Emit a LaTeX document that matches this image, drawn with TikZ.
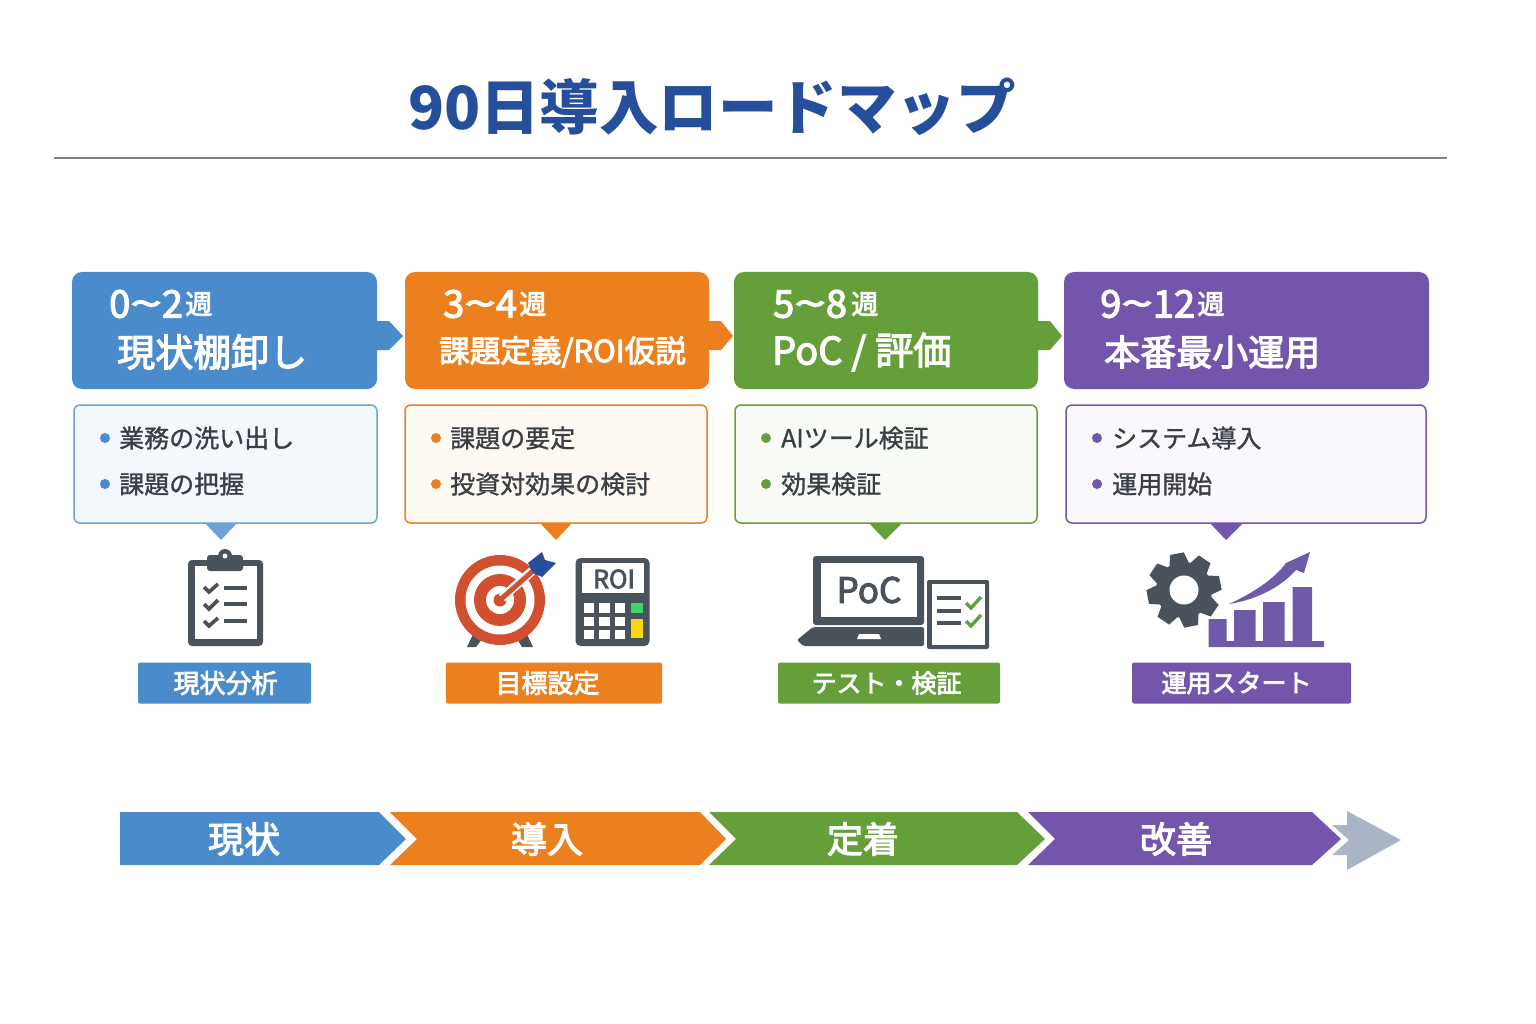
\documentclass[tikz,border=0pt]{standalone}
\usepackage{fontspec}
\setmainfont{Noto Sans CJK JP}
\newfontfamily\medfont[FakeBold=3]{Noto Sans CJK JP}
\newfontfamily\itemfont[FakeBold=1.2]{Noto Sans CJK JP}
\usetikzlibrary{positioning}

\definecolor{cblue}{HTML}{4A8BCB}
\definecolor{corange}{HTML}{EC801E}
\definecolor{cgreen}{HTML}{659F3A}
\definecolor{cpurple}{HTML}{7355AB}
\definecolor{lblue}{HTML}{F3F8FD}
\definecolor{lorange}{HTML}{FFF9F3}
\definecolor{lgreen}{HTML}{F9FBF6}
\definecolor{lpurple}{HTML}{FBF9FE}
\definecolor{cicon}{HTML}{4A525C}
\definecolor{cchart}{HTML}{6E5AA8}
\definecolor{ctext}{HTML}{3A3F45}
\definecolor{ctitle}{HTML}{254E9B}
\definecolor{cred}{HTML}{D24F2F}
\definecolor{cgray}{HTML}{A9B4C4}

\newcommand{\fpx}[1]{\fontsize{#1}{#1}\selectfont}
\newcommand{\wave}{\scalebox{1.5}[1]{\textasciitilde}}

\tikzset{
  header/.style={rounded corners=10, minimum height=117, inner sep=0},
  bodybox/.style={rounded corners=6, line width=1.5, minimum height=118, inner sep=0},
  tag/.style={rounded corners=2, minimum height=41, inner sep=0},
  tagtext/.style={inner sep=0, text=white, font=\fpx{26}\medfont},
  weeks/.style={anchor=west, inner sep=0, text=white, font=\fpx{38}\medfont},
  wk/.style={anchor=west, inner sep=0, text=white, font=\fpx{27}\medfont},
  phase/.style={anchor=west, inner sep=0, text=white, font=\fpx{38}\medfont},
  item/.style={anchor=west, inner sep=0, text=ctext, font=\fpx{25}\itemfont},
  bandtext/.style={inner sep=0, text=white, font=\fpx{36}\medfont},
  dot/.style={circle, minimum size=10, inner sep=0},
  checkline/.style={line width=3.6, cicon},
  checkgreen/.style={line width=3.4, cgreen}
}

\begin{document}
\begin{tikzpicture}[x=1pt,y=-1pt]
\useasboundingbox (0,0) rectangle (1536,1024);

% title
\node[inner sep=0, text=ctitle, font=\fpx{59.5}\bfseries] (title) at (712,107) {90日導入ロードマップ};
\coordinate (rl) at (54,158);
\coordinate (rr) at (1447,158);
\draw[line width=1.5, color=gray] (rl) -- (rr);

% pointers
\path[shape=coordinate]
(376,321) coordinate(a11) (389,321) coordinate(a12) (403,336) coordinate(a13)
(389,350) coordinate(a14) (376,350) coordinate(a15);
\fill[cblue] (a11) -- (a12) -- (a13) -- (a14) -- (a15) -- cycle;
\path[shape=coordinate]
(708,321) coordinate(a21) (721,321) coordinate(a22) (733,336) coordinate(a23)
(721,350) coordinate(a24) (708,350) coordinate(a25);
\fill[corange] (a21) -- (a22) -- (a23) -- (a24) -- (a25) -- cycle;
\path[shape=coordinate]
(1037,321) coordinate(a31) (1050,321) coordinate(a32) (1062,336) coordinate(a33)
(1050,350) coordinate(a34) (1037,350) coordinate(a35);
\fill[cgreen] (a31) -- (a32) -- (a33) -- (a34) -- (a35) -- cycle;

% headers
\node[header, fill=cblue, minimum width=305] (h1) at (224.5,330.5) {};
\node[header, fill=corange, minimum width=304] (h2) at (557,330.5) {};
\node[header, fill=cgreen, minimum width=304] (h3) at (886,330.5) {};
\node[header, fill=cpurple, minimum width=365] (h4) at (1246.5,330.5) {};

\node[weeks] (w1) at (109,304) {0\wave 2};
\node[wk, right=2 of w1] (k1) {週};
\node[phase] (p1) at (117,352) {現状棚卸し};
\node[weeks] (w2) at (443,304) {3\wave 4};
\node[wk, right=2 of w2] (k2) {週};
\node[phase, font=\fpx{30.6}\medfont] (p2) at (439,352) {課題定義/ROI仮説};
\node[weeks] (w3) at (773,304) {5\wave 8};
\node[wk, right=4 of w3] (k3) {週};
\node[phase] (p3) at (772,352) {PoC\hspace{9pt}/\hspace{9pt}評価};
\node[weeks] (w4) at (1100,304) {9\wave 12};
\node[wk, right=2 of w4] (k4) {週};
\node[phase, font=\fpx{36}\medfont] (p4) at (1104,352) {本番最小運用};

% callouts
\path[shape=coordinate]
(204,522) coordinate(c11) (238,522) coordinate(c12) (221,540) coordinate(c13)
(539,522) coordinate(c21) (573,522) coordinate(c22) (556,540) coordinate(c23)
(868,522) coordinate(c31) (903,522) coordinate(c32) (885,540) coordinate(c33)
(1209,522) coordinate(c41) (1244,522) coordinate(c42) (1226,540) coordinate(c43);
\fill[cblue!80] (c11) -- (c12) -- (c13) -- cycle;
\fill[corange] (c21) -- (c22) -- (c23) -- cycle;
\fill[cgreen] (c31) -- (c32) -- (c33) -- cycle;
\fill[cpurple] (c41) -- (c42) -- (c43) -- cycle;

% body boxes
\node[bodybox, draw=cblue!80, fill=lblue, minimum width=303] (b1) at (225.5,464) {};
\node[bodybox, draw=corange, fill=lorange, minimum width=302] (b2) at (556,464) {};
\node[bodybox, draw=cgreen, fill=lgreen, minimum width=302] (b3) at (886,464) {};
\node[bodybox, draw=cpurple, fill=lpurple, minimum width=360] (b4) at (1246,464) {};

\node[dot, fill=cblue] (d11) at (105,438) {};
\node[dot, fill=cblue] (d12) at (105,484) {};
\node[item] (t11) at (119,438) {業務の洗い出し};
\node[item] (t12) at (119,484) {課題の把握};
\node[dot, fill=corange] (d21) at (436,438) {};
\node[dot, fill=corange] (d22) at (436,484) {};
\node[item] (t21) at (450,438) {課題の要定};
\node[item] (t22) at (450,484) {投資対効果の検討};
\node[dot, fill=cgreen] (d31) at (766,438) {};
\node[dot, fill=cgreen] (d32) at (766,484) {};
\node[item] (t31) at (781,438) {AIツール検証};
\node[item] (t32) at (781,484) {効果検証};
\node[dot, fill=cpurple] (d41) at (1097,438) {};
\node[dot, fill=cpurple] (d42) at (1097,484) {};
\node[item] (t41) at (1112,438) {システム導入};
\node[item] (t42) at (1112,484) {運用開始};

% clipboard
\fill[cicon, rounded corners=4] (188,560) rectangle (263,646);
\fill[white] (195,566) rectangle (257,639);
\fill[cicon, rounded corners=3] (207,555) rectangle (243,571);
\fill[cicon] (225,556) circle (7);
\fill[white] (225,556) circle (2.5);
\draw[checkline] (204,587) -- (209,592) -- (218,584);
\draw[checkline] (224,588) -- (247,588);
\draw[checkline] (204,604) -- (209,609) -- (218,600);
\draw[checkline] (224,604) -- (247,604);
\draw[checkline] (204,621) -- (209,626) -- (218,618);
\draw[checkline] (224,621) -- (247,621);

% target
\fill[cicon] (476,628) -- (486,634) -- (476,647) -- (467,647) -- cycle;
\fill[cicon] (524,628) -- (514,634) -- (522,647) -- (533,647) -- cycle;
\fill[cred] (500,600) circle (45);
\fill[white] (500,600) circle (34.5);
\fill[cred] (500,600) circle (26);
\fill[white] (500,600) circle (14);
\fill[cred] (500,600) circle (6.5);
\draw[white, line width=9] (502,598) -- (532,571);
\draw[cred, line width=5] (500,600) -- (534,570);
\fill[ctitle] (528,563) -- (542,552) -- (545,560) -- (556,563) -- (542,577) -- (533,573) -- cycle;

% calculator
\fill[cicon, rounded corners=5] (575.5,558) rectangle (649.5,646);
\fill[white] (582,563) rectangle (644,593);
\node[inner sep=0, text=cicon, font=\fpx{25}\medfont] (roi) at (614,579) {ROI};
\fill[white] (583.5,603) rectangle (594,612.7);
\fill[white] (599,603) rectangle (609.5,612.7);
\fill[white] (614.5,603) rectangle (625,612.7);
\fill[white] (583.5,616.7) rectangle (594,626);
\fill[white] (599,616.7) rectangle (609.5,626);
\fill[white] (614.5,616.7) rectangle (625,626);
\fill[white] (583.5,630) rectangle (594,639);
\fill[white] (599,630) rectangle (609.5,639);
\fill[white] (614.5,630) rectangle (625,639);
\fill[fill=green!55!teal!75] (631,603) rectangle (642.5,613);
\fill[fill=yellow!75!orange] (631,619) rectangle (642.5,638);

% laptop
\fill[cicon, rounded corners=3] (813,556) rectangle (924,625);
\fill[white] (821,563) rectangle (917,617);
\node[inner sep=0, text=cicon, font=\fpx{35}\medfont] (poc) at (869,590) {PoC};
\fill[cicon, rounded corners=2] (813,627) -- (924,627) -- (924,646) -- (803,646) -- (797,640) -- cycle;
\fill[white] (859,634) -- (879,634) -- (881,639) -- (857,639) -- cycle;

% sheet
\fill[cicon, rounded corners=2] (927,580) rectangle (989,649);
\fill[white] (932,584) rectangle (985,645);
\draw[checkline] (937,598) -- (961,598);
\draw[checkline] (937,611) -- (961,611);
\draw[checkline] (937,623) -- (961,623);
\draw[checkgreen] (966,603) -- (971,608) -- (981,597);
\draw[checkgreen] (966,621) -- (971,626) -- (981,615);

% gear
\coordinate (gc) at (1184,590);
\fill[cicon] (gc) circle (28);
\foreach \a in {11,56,101,146,191,236,281,326} {
  \fill[cicon, shift={(gc)}, rotate=\a] (-7,-37) -- (7,-37) -- (10,-25) -- (-10,-25) -- cycle;
}
\fill[white] (gc) circle (14.5);

% chart
\fill[cchart] (1208.5,641) -- (1208.5,619) -- (1226.5,619) -- (1226.5,641) -- (1234,641) -- (1234,610) -- (1255.5,610) -- (1255.5,641)
 -- (1263,641) -- (1263,602) -- (1284.5,602) -- (1284.5,641) -- (1292.5,641) -- (1292.5,587) -- (1312,587) -- (1312,641) -- (1324,641) -- (1324,647) -- (1208.5,647) -- cycle;
\fill[cchart] (1229,604) .. controls (1255,592) and (1275,578) .. (1286,563) -- (1310,552) -- (1304,573) -- (1296,570) .. controls (1280,588) and (1255,600) .. (1229,604) -- cycle;

% tags
\node[tag, fill=cblue, minimum width=173] (s1) at (224.5,683) {};
\node[tag, fill=corange, minimum width=216] (s2) at (554,683) {};
\node[tag, fill=cgreen, minimum width=222] (s3) at (889,683) {};
\node[tag, fill=cpurple, minimum width=219] (s4) at (1241.5,683) {};
\node[tagtext] (l1) at (225.5,683) {現状分析};
\node[tagtext] (l2) at (547.5,683) {目標設定};
\node[tagtext, font=\fpx{25}\medfont] (l3) at (886.5,683) {テスト・検証};
\node[tagtext, font=\fpx{25}\medfont] (l4) at (1236.5,683) {運用スタート};

% band
\path[shape=coordinate]
(120,812) coordinate(r11) (379,812) coordinate(r12) (406,839) coordinate(r13)
(379,865) coordinate(r14) (120,865) coordinate(r15);
\fill[cblue] (r11) -- (r12) -- (r13) -- (r14) -- (r15) -- cycle;

\path[shape=coordinate]
(390,812) coordinate(r21) (700,812) coordinate(r22) (726,839) coordinate(r23)
(700,865) coordinate(r24) (390,865) coordinate(r25) (417,839) coordinate(r26);
\fill[corange] (r21) -- (r22) -- (r23) -- (r24) -- (r25) -- (r26) -- cycle;

\path[shape=coordinate]
(709,812) coordinate(r31) (1017,812) coordinate(r32) (1045,839) coordinate(r33)
(1017,865) coordinate(r34) (709,865) coordinate(r35) (736,839) coordinate(r36);
\fill[cgreen] (r31) -- (r32) -- (r33) -- (r34) -- (r35) -- (r36) -- cycle;

\path[shape=coordinate]
(1028,812) coordinate(r41) (1312,812) coordinate(r42) (1341,839) coordinate(r43)
(1312,865) coordinate(r44) (1028,865) coordinate(r45) (1055,839) coordinate(r46);
\fill[cpurple] (r41) -- (r42) -- (r43) -- (r44) -- (r45) -- (r46) -- cycle;

\path[shape=coordinate]
(1347,811) coordinate(r51) (1401,840) coordinate(r52) (1347,870) coordinate(r53)
(1347,855) coordinate(r54) (1332,855) coordinate(r55) (1349,840) coordinate(r56)
(1332,825) coordinate(r57) (1347,825) coordinate(r58);
\fill[cgray] (r51) -- (r52) -- (r53) -- (r54) -- (r55) -- (r56) -- (r57) -- (r58) -- cycle;

\node[bandtext] (n1) at (244,839) {現状};
\node[bandtext] (n2) at (547,839) {導入};
\node[bandtext] (n3) at (863,839) {定着};
\node[bandtext] (n4) at (1176,839) {改善};

\end{tikzpicture}
\end{document}
